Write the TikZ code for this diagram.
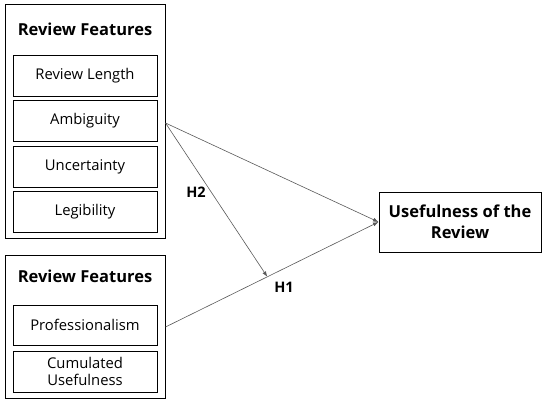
\documentclass[tikz,border=0pt]{standalone}
\usepackage{fontspec}
\setmainfont{Open Sans}
\usetikzlibrary{arrows.meta,calc}
\begin{document}
\begin{tikzpicture}[x=1pt,y=-1pt,
  outerbox/.style={draw, line width=1pt, minimum width=160pt, inner sep=0pt},
  innerbox/.style={draw, line width=0.9pt, minimum width=144pt, minimum height=41pt, inner sep=0pt, align=center, font=\fontsize{14.8}{17}\selectfont},
  titletext/.style={font=\bfseries\fontsize{16.5}{19}\selectfont, inner sep=0pt},
  hlabel/.style={font=\bfseries\fontsize{14.5}{17}\selectfont, inner sep=0pt},
  conn/.style={draw=black!65, line width=0.6pt, -{Latex[length=5.5pt,width=4pt]}}]
\useasboundingbox (0,0) rectangle (546,404);
\node[outerbox, minimum height=233pt] (box1) at (85,121.5) {};
\node[titletext] (t1) at (85,29) {Review Features};
\node[innerbox] (len) at (85,75.5) {Review Length};
\node[innerbox] (amb) at (85,121) {Ambiguity};
\node[innerbox] (unc) at (85,166.5) {Uncertainty};
\node[innerbox] (leg) at (85,212) {Legibility};
\node[outerbox, minimum height=143pt] (box2) at (85,326.5) {};
\node[titletext] (t2) at (85,276) {Review Features};
\node[innerbox, minimum height=40pt] (prof) at (85,325) {Professionalism};
\node[innerbox] (cum) at (85,371.5) {Cumulated\\Usefulness};
\node[draw, line width=1pt, minimum width=162pt, minimum height=60pt, inner sep=0pt, align=center,
  font=\bfseries\fontsize{16.5}{21}\selectfont] (use) at (460,222) {Usefulness of the\\Review};
\coordinate (s1) at (box1.east |- 0,123);
\coordinate (s2) at (box2.east |- 0,327);
\coordinate (h) at ($(s2)!0.478!(use.west)$);
\draw[conn] (s1) -- (use.west);
\draw[conn] (s2) -- (use.west);
\draw[conn] (s1) -- (h);
\node[hlabel] (h2) at (196,192.5) {H2};
\node[hlabel] (h1) at (284,287.5) {H1};
\end{tikzpicture}
\end{document}
